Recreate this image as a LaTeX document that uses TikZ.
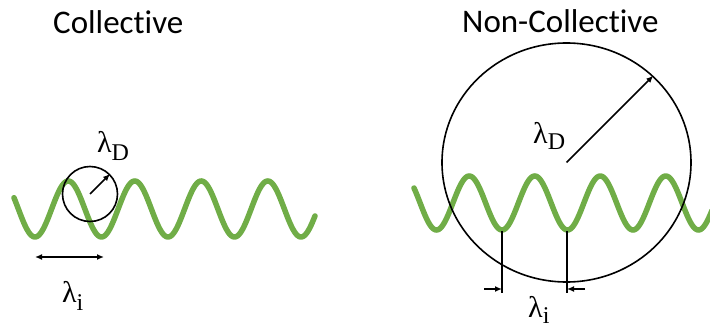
\documentclass[tikz,border=0pt]{standalone}
\usepackage{fontspec}
\setmainfont{Carlito}[Ligatures=NoCommon]
\newfontfamily\tms{Liberation Serif}
\usetikzlibrary{arrows.meta,shapes.geometric}
\definecolor{wavegreen}{RGB}{112,173,71}
\newcommand\lamsub[2]{{\tms\fontsize{30}{32}\selectfont λ}\raisebox{-#2pt}{\tms\fontsize{24}{26}\selectfont #1}}
\begin{document}
\begin{tikzpicture}[x=1pt,y=-1pt,
  wave/.style={wavegreen,line width=5.5pt,line cap=round},
  ring/.style={draw=black,line width=1.6pt,inner sep=0pt},
  arr/.style={line width=1.6pt,-{Latex[length=7pt,width=6pt]}},
  dimline/.style={line width=1.6pt},
  title/.style={font=\fontsize{33}{36}\selectfont,anchor=base west,inner sep=0pt},
  lab/.style={anchor=base west,inner sep=0pt}]
\useasboundingbox (0,0) rectangle (710,329);
% titles
\node[title] (t1) at (53,34) {Collective};
\node[title] (t2) at (462,33) {Non-Collective};
% left waves
\draw[wave] plot[domain=14:315,samples=250] ({\x},{209+28*cos((\x-35)*5.4135)});
\node[ring,circle,minimum size=55pt] (c1) at (90,194) {};
\draw[arr] (c1.center) -- (c1.45);
\node[lab] (ld1) at (97,152) {\lamsub{D}{8}};
\coordinate (a1) at (35,257);
\coordinate (b1) at (104,257);
\draw[line width=1.6pt,{Latex[length=7pt,width=6pt]}-{Latex[length=7pt,width=6pt]}] (a1) -- (b1);
\node[lab] (li1) at (62,302) {\lamsub{i}{8}};
% right
\draw[wave] plot[domain=414:712,samples=250] ({\x},{203+27*cos((\x-502)*5.4962)});
\node[ring,ellipse,minimum width=249pt,minimum height=239pt] (c2) at (566.5,162.5) {};
\draw[arr] (c2.center) -- (c2.45);
\node[lab] (ld2) at (533,143) {\lamsub{D}{6}};
\coordinate (v1t) at (502,231);
\coordinate (v1b) at (502,293);
\coordinate (v2t) at (567,231);
\coordinate (v2b) at (567,293);
\draw[dimline] (v1t) -- (v1b);
\draw[dimline] (v2t) -- (v2b);
\coordinate (p1) at (484,289);
\coordinate (q1) at (502,289);
\coordinate (p2) at (585,289);
\coordinate (q2) at (567,289);
\draw[arr] (p1) -- (q1);
\draw[arr] (p2) -- (q2);
\node[lab] (li2) at (528,317) {\lamsub{i}{6}};
\end{tikzpicture}
\end{document}
